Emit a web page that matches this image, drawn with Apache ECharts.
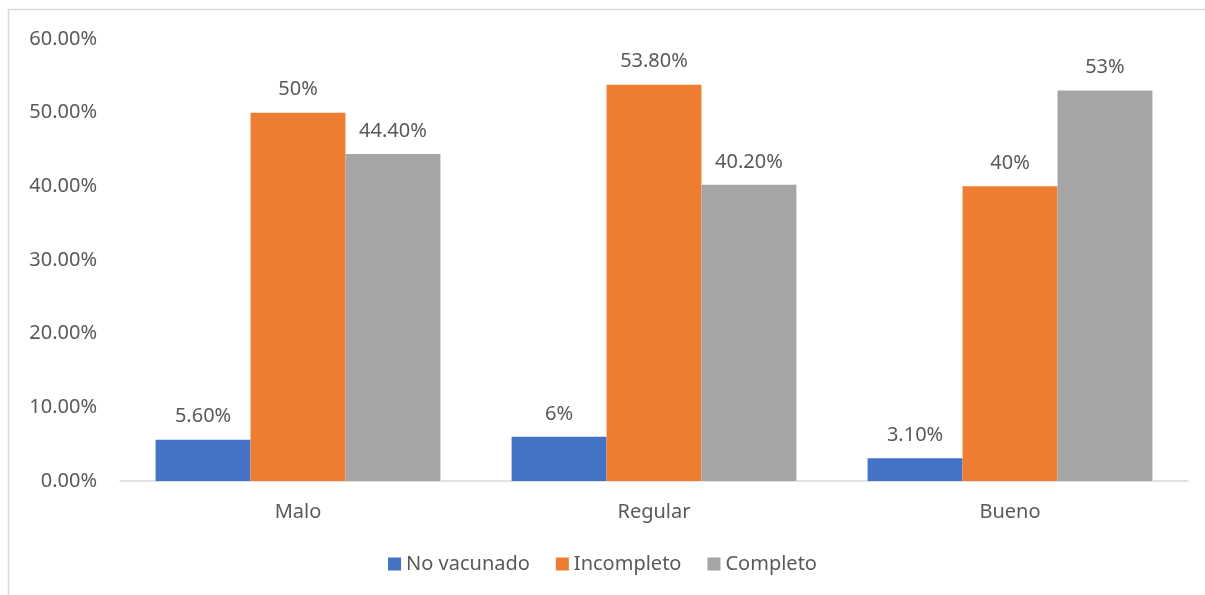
<!DOCTYPE html>
<html><head><meta charset="utf-8">
<script src="https://cdn.jsdelivr.net/npm/echarts@6/dist/echarts.min.js"></script>
<style>html,body{margin:0;padding:0;background:#fff}#c{width:1205px;height:595px}</style>
</head><body><div id="c"></div>
<script>
const categories = ['Malo', 'Regular', 'Bueno'];
const noVacunado = [5.6, 6, 3.1];
const incompleto = [50, 53.8, 40];
const completo = [44.4, 40.2, 53];
const noVacunadoLabels = ['5.60%', '6%', '3.10%'];
const incompletoLabels = ['50%', '53.80%', '40%'];
const completoLabels = ['44.40%', '40.20%', '53%'];
const yTicks = [0, 10, 20, 30, 40, 50, 60];

const font = '"Noto Sans", "Open Sans", sans-serif';
const textColor = '#595959';
const fs = 20;
function mk(name, data, labels, color) {
  return {
    name, type: 'bar', data, barGap: '0%', barCategoryGap: '20%',
    itemStyle: { color },
    label: { show: true, position: 'top', distance: 13, color: textColor, fontSize: fs, fontFamily: font,
      formatter: p => labels[p.dataIndex] }
  };
}
const chart = echarts.init(document.getElementById('c'));
chart.setOption({
  animation: false,
  graphic: [{ type: 'rect', shape: { x: 8.5, y: 9.5, width: 1210, height: 600 }, style: { fill: 'none', stroke: '#d9d9d9', lineWidth: 1.5 } }],
  grid: { left: 120, right: 17, top: 39, bottom: 114 },
  legend: { bottom: 16, left: 'center', itemWidth: 13, itemHeight: 13, itemGap: 26, icon: 'rect',
    textStyle: { color: textColor, fontSize: fs, fontFamily: font } },
  xAxis: { type: 'category', data: categories,
    axisLine: { lineStyle: { color: '#d9d9d9', width: 1.5 } }, axisTick: { show: false },
    axisLabel: { color: textColor, fontSize: fs, fontFamily: font, margin: 21 } },
  yAxis: { type: 'value', min: yTicks[0], max: yTicks[yTicks.length - 1], interval: 10,
    splitLine: { show: false }, axisLine: { show: false }, axisTick: { show: false },
    axisLabel: { color: textColor, fontSize: fs, fontFamily: font, margin: 23, formatter: v => v.toFixed(2) + '%' } },
  series: [
    mk('No vacunado', noVacunado, noVacunadoLabels, '#4472C4'),
    mk('Incompleto', incompleto, incompletoLabels, '#ED7D31'),
    mk('Completo', completo, completoLabels, '#A5A5A5')
  ]
});
</script></body></html>
